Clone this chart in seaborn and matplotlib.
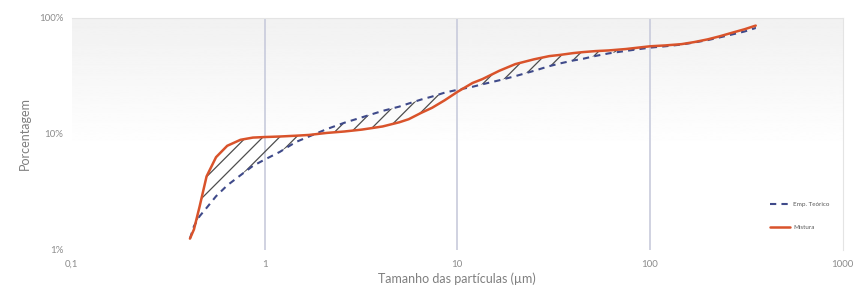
import numpy as np
import pandas as pd
import matplotlib
matplotlib.use("Agg")
import matplotlib.pyplot as plt
from matplotlib.ticker import FixedLocator, FixedFormatter, NullLocator
import seaborn as sns

# -----------------------------
# Data
# -----------------------------
particle_size = [0.41, 0.43, 0.46, 0.50, 0.56, 0.64, 0.75, 0.87, 1.0, 1.2, 1.45, 1.7,
                 2.1, 2.6, 3.2, 4.1, 5.0, 5.6, 6.5, 7.4, 8.6, 10, 12, 13.5, 16.5, 20,
                 25, 30, 34, 40, 45, 52, 61, 75, 100, 120, 146, 170, 200, 230, 266,
                 310, 354]
mistura = [1.25, 1.5, 2.36, 4.3, 6.3, 7.9, 8.9, 9.3, 9.4, 9.5, 9.65, 9.8,
           10.2, 10.5, 10.9, 11.6, 12.6, 13.4, 15.2, 16.8, 19.5, 23, 27.5, 29.7, 35, 40,
           44, 46.9, 48, 49.8, 50.8, 51.8, 52.5, 54, 57, 58, 59.5, 62, 65.5, 69.5, 74.5,
           80, 86]
emp_teorico = [1.25, 1.6, 1.95, 2.3, 2.9, 3.6, 4.4, 5.3, 6.0, 7.0, 8.5, 9.5,
               11.0, 12.5, 13.9, 15.8, 17.2, 18.3, 19.8, 21, 22.7, 24, 25.5, 26.8, 29, 31.5,
               35, 38.4, 40.5, 43, 44.5, 47, 49.5, 52, 55.5, 57, 59, 61.5, 64.5, 68, 72,
               76.5, 82]

x_ticks = [0.1, 1, 10, 100, 1000]
x_tick_labels = ["0,1", "1", "10", "100", "1000"]
y_ticks = [1, 10, 100]
y_tick_labels = ["1%", "10%", "100%"]

df = pd.DataFrame({"size": particle_size, "Mistura": mistura, "Emp. Teórico": emp_teorico})

sns.set_style("white")
plt.rcParams["font.family"] = ["Lato", "DejaVu Sans"]
plt.rcParams["hatch.linewidth"] = 0.9
plt.rcParams["hatch.color"] = "#4d4d4d"

fig = plt.figure(figsize=(8.66, 2.95), dpi=100)
pos = [0.083, 0.153, 0.890, 0.786]

# soft grey gradient behind the plot area
bg = fig.add_axes(pos, zorder=0)
grad = np.linspace(0.945, 1.0, 200)
grad = np.clip(np.concatenate([grad, np.ones(150)]), 0, 1)[:, None]
bg.imshow(grad, cmap="gray", vmin=0, vmax=1, aspect="auto", extent=[0, 1, 0, 1])
bg.set_axis_off()

ax = fig.add_axes(pos, zorder=1)
ax.set_facecolor("none")
ax.set_xscale("log")
ax.set_yscale("log")

# vertical gridlines
for xv in [1, 10, 100]:
    ax.axvline(xv, color="#c8cbdc", lw=1.2, zorder=1)

# hatched gap between the two curves
ax.fill_between(df["size"], df["Mistura"], df["Emp. Teórico"], facecolor="none",
                edgecolor="#4d4d4d", hatch="//", linewidth=0, zorder=2)

sns.lineplot(data=df, x="size", y="Emp. Teórico", ax=ax, color="#3f4a8a",
             linewidth=1.5, linestyle=(0, (3, 2.5)), label="Emp. Teórico", zorder=3)
sns.lineplot(data=df, x="size", y="Mistura", ax=ax, color="#d9532b",
             linewidth=1.8, label="Mistura", zorder=4)

ax.set_xlim(0.1, 1000)
ax.set_ylim(1, 100)
ax.xaxis.set_major_locator(FixedLocator(x_ticks))
ax.xaxis.set_major_formatter(FixedFormatter(x_tick_labels))
ax.xaxis.set_minor_locator(NullLocator())
ax.yaxis.set_major_locator(FixedLocator(y_ticks))
ax.yaxis.set_major_formatter(FixedFormatter(y_tick_labels))
ax.yaxis.set_minor_locator(NullLocator())
ax.tick_params(axis="both", length=0, labelsize=7, labelcolor="#8c8c8c")
ax.tick_params(axis="x", pad=7)
ax.tick_params(axis="y", pad=6)

for side in ["left", "bottom"]:
    ax.spines[side].set_visible(False)
for side in ["top", "right"]:
    ax.spines[side].set_color("#e4e4e4")
    ax.spines[side].set_linewidth(0.8)

ax.set_xlabel("Tamanho das partículas (µm)", fontsize=9, color="#7f7f7f", labelpad=3)
ax.set_ylabel("Porcentagem", fontsize=9, color="#7f7f7f", labelpad=6)

leg = ax.legend(loc="lower right", bbox_to_anchor=(0.99, 0.06), frameon=False,
                fontsize=4.5, labelspacing=2.8, handlelength=3.2, handletextpad=0.4)
for t in leg.get_texts():
    t.set_color("#595959")

fig.savefig("out.png", dpi=100)
